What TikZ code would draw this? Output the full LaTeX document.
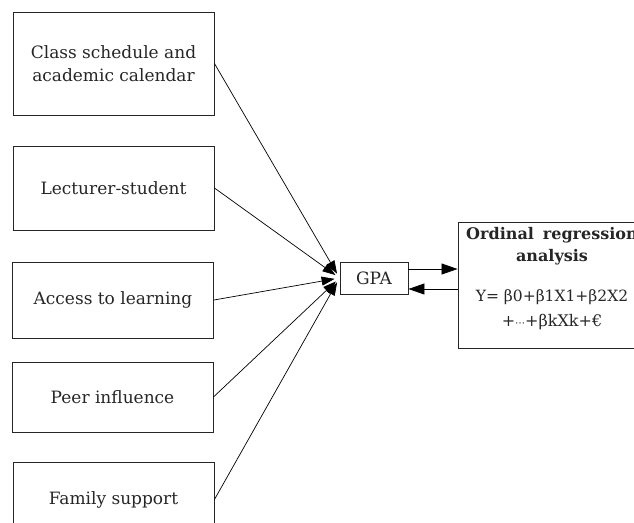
\documentclass[tikz,border=0pt]{standalone}
\usepackage{fontspec}
\setmainfont{DejaVu Serif}
\newfontfamily\symfont{DejaVu Sans}
\usetikzlibrary{arrows.meta, positioning}
\definecolor{inkgray}{HTML}{262626}
\tikzset{
    factor/.style={draw=inkgray, line width=0.9pt, minimum width=201pt, text=inkgray, align=center, inner sep=0pt},
    gpabox/.style={draw=inkgray, line width=0.9pt, minimum width=68pt, minimum height=32pt, text=inkgray, inner sep=0pt},
    link/.style={black, line width=0.7pt, -{Triangle[length=13pt,width=9pt]}},
    biglink/.style={black, line width=0.8pt, -{Triangle[length=16pt,width=11pt]}},
}
\def\txt{\fontsize{17}{23}\selectfont}

\begin{document}
\begin{tikzpicture}[x=1pt, y=-1pt, font=\txt]
    \useasboundingbox (0,0) rectangle (634,522);
    \clip (0,0) rectangle (634,522);
    % independent variables
    \node[factor, minimum height=103pt] (sched) at (113.5,63.5) {Class schedule and\\academic calendar};
    \node[factor, minimum height=84pt] (lect) at (113.5,188) {Lecturer-student};
    \node[factor, minimum height=76pt] (access) at (113,300) {Access to learning};
    \node[factor, minimum height=70pt] (peer) at (112.5,397) {Peer influence};
    \node[factor, minimum height=75pt] (family) at (113.5,499.5) {Family support};
    % dependent variable and model
    \node[gpabox] (gpa) at (374,278) {GPA};
    \node[draw=inkgray, line width=0.9pt, minimum width=188pt, minimum height=126pt] (reg) at (552,285) {};
    \node[text=inkgray, align=center, inner sep=0pt, font=\fontsize{16}{23}\selectfont] (regtxt) at ([yshift=6pt]reg.center)
        {\textbf{Ordinal\hspace{9pt}regression}\\[-1pt]\textbf{analysis}\\[17pt]{\fontsize{15.5}{23}\selectfont Y= β0+β1X1+β2X2}\\[2pt]+{\symfont\fontsize{10}{10}\selectfont ⋯}+βkXk+€};
    % connectors
    \foreach \n in {sched, lect, access, peer, family}
        \draw[link, shorten >=5pt] (\n.east) -- (gpa.west);
    \draw[biglink] ([yshift=9pt]gpa.east) -- ([yshift=9pt]gpa.east -| reg.west);
    \draw[biglink] ([yshift=-11pt]gpa.east -| reg.west) -- ([yshift=-11pt]gpa.east);
\end{tikzpicture}
\end{document}
